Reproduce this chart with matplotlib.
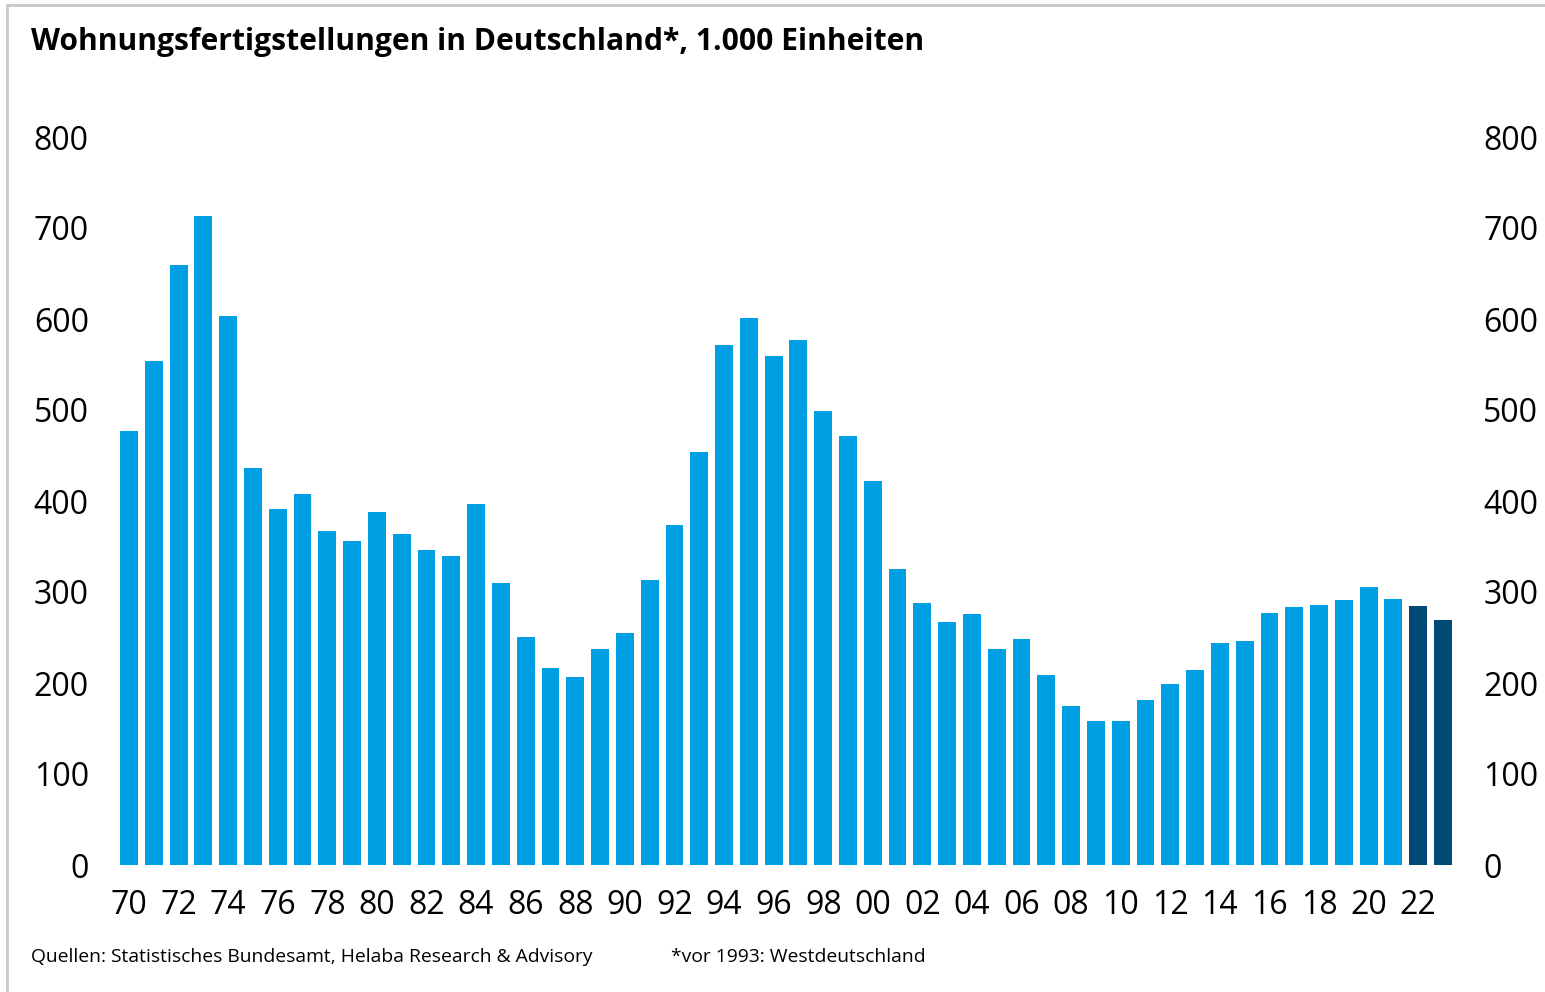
import matplotlib.pyplot as plt
from matplotlib.lines import Line2D

plt.rcParams['font.family'] = ['Open Sans', 'DejaVu Sans']

# Wohnungsfertigstellungen, 1.000 Einheiten
years = list(range(1970, 2024))
values = [477, 554, 659, 713, 603, 436, 391, 408, 367, 356,
          388, 364, 346, 340, 397, 310, 251, 216, 207, 237,
          255, 313, 374, 454, 571, 601, 559, 577, 499, 471,
          422, 325, 288, 267, 276, 237, 248, 209, 175, 158,
          158, 181, 199, 214, 244, 246, 277, 284, 286, 291,
          306, 292, 285, 269]
dark_years = [2022, 2023]
yticks = [0, 100, 200, 300, 400, 500, 600, 700, 800]

light = '#009FE3'
dark = '#004B75'
colors = [dark if y in dark_years else light for y in years]

fig = plt.figure(figsize=(15.45, 9.92), dpi=100)
ax = fig.add_axes([116.6 / 1545, 127 / 992, 1338.8 / 1545, 728 / 992])

ax.bar(years, values, width=0.72, color=colors)
ax.set_xlim(1969.5, 2023.5)
ax.set_ylim(0, 800)

ax.set_xticks(years[::2])
ax.set_xticklabels([str(y)[2:] for y in years[::2]])
ax.set_yticks(yticks)
ax.tick_params(axis='both', length=0, labelsize=23)
ax.tick_params(axis='x', pad=17)
ax.tick_params(axis='y', pad=20, labelleft=True, labelright=True)
for s in ax.spines.values():
    s.set_visible(False)

# rahmen links und oben
fig.add_artist(Line2D([7 / 1545, 7 / 1545], [0, 1 - 5 / 992], transform=fig.transFigure,
                      color='#c8c8c8', lw=2))
fig.add_artist(Line2D([7 / 1545, 1], [1 - 5 / 992, 1 - 5 / 992], transform=fig.transFigure,
                      color='#c8c8c8', lw=2))

fig.text(31 / 1545, 1 - 42 / 992, 'Wohnungsfertigstellungen in Deutschland*, 1.000 Einheiten',
         fontsize=21.6, fontweight='bold', va='center', ha='left')
fig.text(31 / 1545, 1 - 957 / 992, 'Quellen: Statistisches Bundesamt, Helaba Research & Advisory',
         fontsize=13.9, va='center', ha='left')
fig.text(671 / 1545, 1 - 957 / 992, '*vor 1993: Westdeutschland',
         fontsize=13.9, va='center', ha='left')

fig.savefig('out.png', dpi=100)
